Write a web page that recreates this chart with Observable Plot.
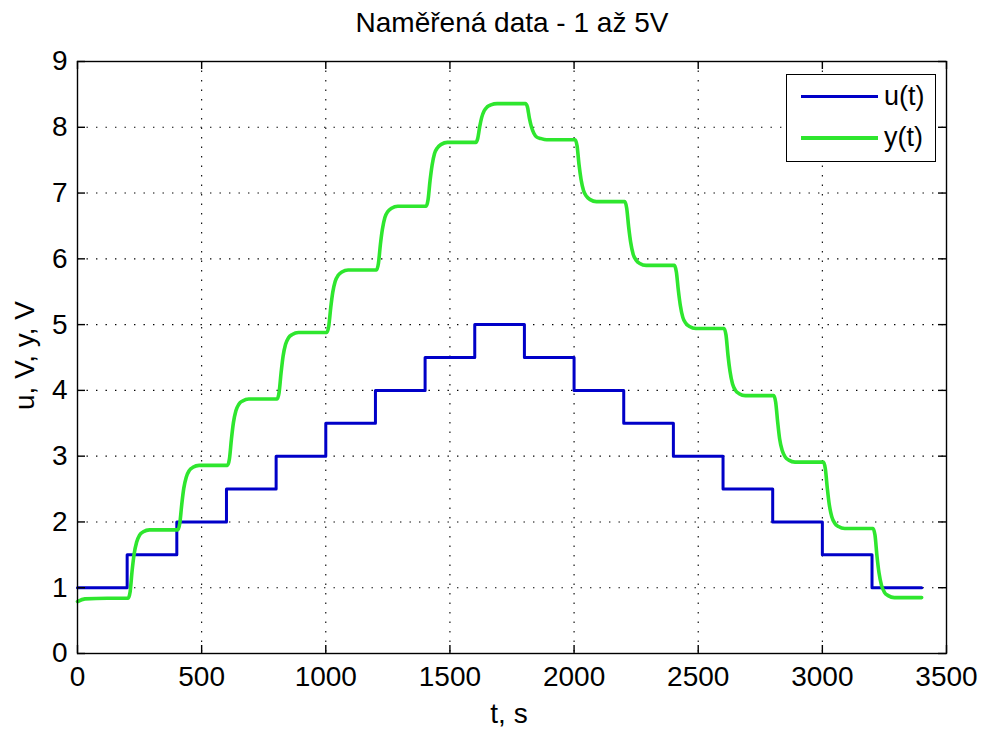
<!DOCTYPE html>
<html>
<head>
<meta charset="utf-8">
<script src="https://cdn.jsdelivr.net/npm/d3@7"></script>
<script src="https://cdn.jsdelivr.net/npm/@observablehq/plot@0.6"></script>
<style>
  html, body { margin: 0; padding: 0; background: #fff; }
  #wrap { position: relative; width: 984px; height: 729px; font-family: "Liberation Sans", Arial, sans-serif; }
  .legend { position: absolute; left: 786px; top: 74px; width: 148px; height: 86px; border: 1.3px solid #000; background: #fff; }
  .legend .sw { position: absolute; left: 14px; width: 77px; height: 3.5px; }
  .legend .lb { position: absolute; left: 97px; font-size: 27px; line-height: 30px; color: #000; }
</style>
</head>
<body>
<div id="wrap"></div>
<script>
// ---- data ----
const titleText = "Naměřená data - 1 až 5V";
const xLabel = "t, s";
const yLabel = "u, V, y, V";
const xTicks = [0, 500, 1000, 1500, 2000, 2500, 3000, 3500];
const yTicks = [0, 1, 2, 3, 4, 5, 6, 7, 8, 9];
const seriesNames = ["u(t)", "y(t)"];
const seriesColors = ["#0000c8", "#2ee62e"];

// input u(t): staircase
const uTime  = [0, 200, 400, 600, 800, 1000, 1200, 1400, 1600, 1800, 2000, 2200, 2400, 2600, 2800, 3000, 3200, 3400];
const uValue = [1, 1.5, 2, 2.5, 3, 3.5, 4, 4.5, 5, 4.5, 4, 3.5, 3, 2.5, 2, 1.5, 1, 1];

// output y(t)
const yInitTime  = [0, 30, 120];
const yInitValue = [0.79, 0.83, 0.84];
const stepStarts = [200, 400, 600, 800, 1000, 1200, 1400, 1600, 1800, 2000, 2200, 2400, 2600, 2800, 3000, 3200];
const responseOffsets = [4, 12, 20, 28, 38, 50, 65, 90];
const yResponse = [
  [0.84, 0.94, 1.26, 1.51, 1.69, 1.80, 1.85, 1.88],
  [1.88, 1.98, 2.27, 2.51, 2.68, 2.78, 2.83, 2.86],
  [2.86, 2.96, 3.26, 3.51, 3.69, 3.79, 3.84, 3.87],
  [3.87, 3.97, 4.27, 4.52, 4.70, 4.80, 4.85, 4.88],
  [4.88, 4.98, 5.26, 5.49, 5.66, 5.75, 5.80, 5.83],
  [5.83, 5.93, 6.22, 6.45, 6.63, 6.72, 6.77, 6.80],
  [6.80, 6.90, 7.19, 7.42, 7.60, 7.69, 7.74, 7.77],
  [7.77, 7.83, 8.01, 8.15, 8.25, 8.31, 8.34, 8.36],
  [8.36, 8.31, 8.14, 8.01, 7.91, 7.85, 7.83, 7.81],
  [7.81, 7.72, 7.43, 7.21, 7.04, 6.95, 6.90, 6.87],
  [6.87, 6.77, 6.48, 6.25, 6.07, 5.98, 5.93, 5.90],
  [5.90, 5.80, 5.52, 5.29, 5.11, 5.02, 4.97, 4.94],
  [4.94, 4.84, 4.53, 4.29, 4.10, 4.00, 3.95, 3.92],
  [3.92, 3.82, 3.52, 3.26, 3.09, 2.99, 2.94, 2.91],
  [2.91, 2.81, 2.51, 2.26, 2.08, 1.98, 1.93, 1.90],
  [1.90, 1.80, 1.48, 1.23, 1.04, 0.93, 0.88, 0.85]
];
const yEndTime = 3400;
const yEndValue = 0.85;

// ---- build tables ----
const uRows = uTime.map((t, i) => ({t, v: uValue[i]}));
const yRows = yInitTime.map((t, i) => ({t, v: yInitValue[i]}));
stepStarts.forEach((s, k) => responseOffsets.forEach((o, j) => yRows.push({t: s + o, v: yResponse[k][j]})));
yRows.push({t: yEndTime, v: yEndValue});

const W = 984, H = 729, mL = 77, mR = 38, mT = 61, mB = 76;
const fw = W - mL - mR, fh = H - mT - mB;
const tickLen = 8;
const gridStyle = {stroke: "#000", strokeOpacity: 1, strokeWidth: 1.1, strokeDasharray: "1.4,8.1"};
const fmt = d => String(d);

const chart = Plot.plot({
  width: W, height: H,
  marginLeft: mL, marginRight: mR, marginTop: mT, marginBottom: mB,
  style: {fontFamily: "'Liberation Sans', Arial, sans-serif", fontSize: "28px", color: "#000", background: "#fff", overflow: "visible"},
  x: {domain: [0, 3500]},
  y: {domain: [0, 9]},
  marks: [
    Plot.ruleX(xTicks.slice(1, -1), {x: d => d, ...gridStyle}),
    Plot.ruleY(yTicks.slice(1, -1), {y: d => d, ...gridStyle}),
    Plot.line(uRows, {x: "t", y: "v", curve: "step-after", stroke: seriesColors[0], strokeWidth: 3}),
    Plot.line(yRows, {x: "t", y: "v", curve: "monotone-x", stroke: seriesColors[1], strokeWidth: 3.6}),
    Plot.frame({stroke: "#000", strokeWidth: 1.4}),
    // inward ticks on all four sides
    Plot.tickX(xTicks, {x: d => d, insetTop: fh - tickLen, stroke: "#000", strokeWidth: 1.4}),
    Plot.tickX(xTicks, {x: d => d, insetBottom: fh - tickLen, stroke: "#000", strokeWidth: 1.4}),
    Plot.tickY(yTicks, {y: d => d, insetRight: fw - tickLen, stroke: "#000", strokeWidth: 1.4}),
    Plot.tickY(yTicks, {y: d => d, insetLeft: fw - tickLen, stroke: "#000", strokeWidth: 1.4}),
    Plot.axisX(xTicks, {anchor: "bottom", tickSize: 0, tickPadding: 13, label: null, fontSize: 28, tickFormat: fmt}),
    Plot.axisY(yTicks, {anchor: "left", tickSize: 0, tickPadding: 10, label: null, fontSize: 28, tickFormat: fmt}),
    Plot.text([titleText], {text: d => d, frameAnchor: "top", lineAnchor: "bottom", dy: -30, fontSize: 28}),
    Plot.text([xLabel], {text: d => d, frameAnchor: "bottom", lineAnchor: "bottom", dy: 69, dx: -3, fontSize: 28}),
    Plot.text([yLabel], {text: d => d, frameAnchor: "left", textAnchor: "middle", rotate: -90, lineAnchor: "bottom", dx: -44, dy: -2, fontSize: 28})
  ]
});

const wrap = document.getElementById("wrap");
wrap.appendChild(chart);

// legend (HTML overlay inside the axes box)
const legend = document.createElement("div");
legend.className = "legend";
const rowCenters = [21.5, 63];
seriesNames.forEach((name, i) => {
  const sw = document.createElement("div");
  sw.className = "sw";
  sw.style.top = (rowCenters[i] - 1.75) + "px";
  sw.style.background = seriesColors[i];
  legend.appendChild(sw);
  const lb = document.createElement("div");
  lb.className = "lb";
  lb.style.top = (rowCenters[i] - 16) + "px";
  lb.textContent = name;
  legend.appendChild(lb);
});
wrap.appendChild(legend);
</script>
</body>
</html>
